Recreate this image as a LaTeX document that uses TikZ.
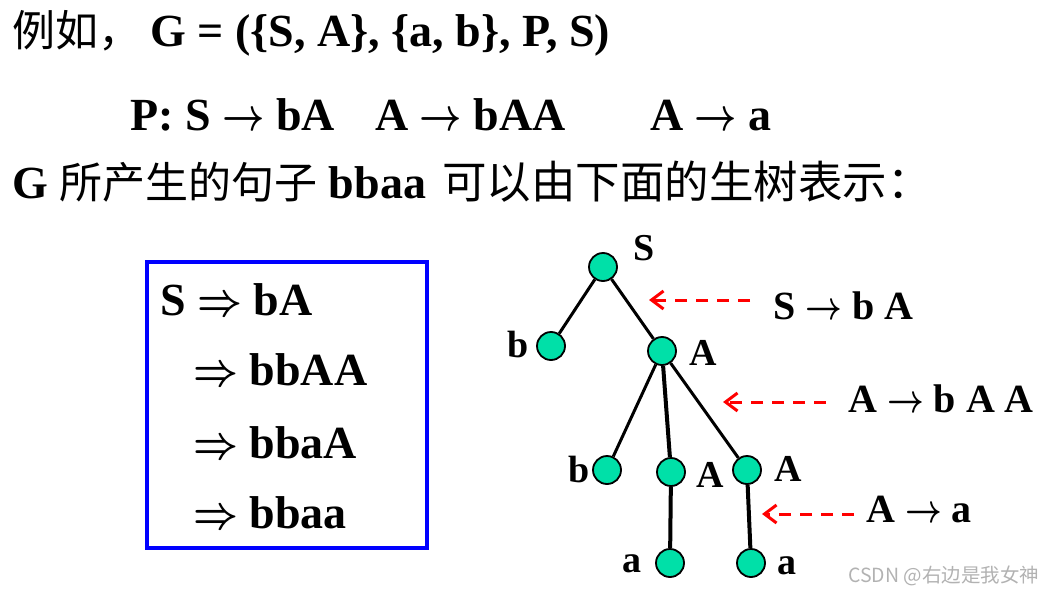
\RequirePackage{fix-cm}
\documentclass[tikz,border=0pt]{standalone}
\usepackage{fontspec}
\setmainfont{Liberation Serif}
\newfontfamily\cjk{Noto Sans CJK SC}
\usetikzlibrary{arrows.meta}
\definecolor{leafgreen}{HTML}{00E0A8}
\newcommand{\toarr}{\scalebox{0.8}[1]{\boldmath$\rightarrow$}}
\newcommand{\derarr}{\scalebox{0.85}[1]{\boldmath$\Rightarrow$}}
\tikzstyle{vert} = [draw, circle, fill=leafgreen, line width=1.8pt, minimum size=28pt, inner sep=0pt]
\tikzstyle{edge} = [line width=3pt]
\tikzstyle{lbl} = [font=\fontsize{38}{40}\selectfont\bfseries, inner sep=0pt]
\tikzstyle{rule} = [font=\fontsize{40}{42}\selectfont\bfseries, inner sep=0pt, anchor=base west]
\tikzstyle{deriv} = [font=\fontsize{46}{48}\selectfont\bfseries, inner sep=0pt, anchor=base west]
\tikzstyle{head} = [font=\fontsize{46}{48}\selectfont\bfseries, inner sep=0pt, anchor=base west]
\tikzstyle{rulearrow} = [red, line width=3pt, dash pattern=on 12pt off 9pt, -{Straight Barb[length=12pt,width=18pt]}]

\begin{document}
\begin{tikzpicture}[x=1pt, y=-1pt]
    \useasboundingbox (0,0) rectangle (1054,594);

    % Heading lines
    \node[head] (eg) at (12,47) {{\cjk\mdseries\fontsize{43}{46}\selectfont 例如，}};
    \node[head] (gram) at (150,47) {G = (\{S, A\}, \{a, b\}, P, S)};
    \node[head] (p1) at (130,130) {P: S \toarr\ bA};
    \node[head] (p2) at (375,130) {A \toarr\ bAA};
    \node[head] (p3) at (650,130) {A \toarr\ a};
    \node[head] (line3) at (12,198) {G {\cjk\mdseries\fontsize{43}{46}\selectfont 所产生的句子} bbaa\hspace{16pt}{\cjk\mdseries\fontsize{44.5}{48}\selectfont 可以由下面的生树表示：}};

    % Derivation box
    \node[draw=blue, line width=3.5pt, minimum width=280pt, minimum height=286pt, inner sep=0pt] (box) at (287,405) {};
    \node[deriv] (d0) at (160,315) {S \derarr\ bA};
    \node[deriv] (d1) at (193,385) {\derarr\ bbAA};
    \node[deriv] (d2) at (193,458) {\derarr\ bbaA};
    \node[deriv] (d3) at (193,528) {\derarr\ bbaa};

    % Tree vertices
    \node[vert] (S) at (603,267) {};
    \node[vert] (b1) at (551,346) {};
    \node[vert] (A1) at (662,351) {};
    \node[vert] (b2) at (607,470) {};
    \node[vert] (A2) at (671,472) {};
    \node[vert] (A3) at (747,470) {};
    \node[vert] (a1) at (670,563) {};
    \node[vert] (a2) at (751,563) {};

    % Tree edges
    \draw[edge] (S) -- (b1);
    \draw[edge] (S) -- (A1);
    \draw[edge] (A1) -- (b2);
    \draw[edge, line width=4pt] (A1) -- (A2);
    \draw[edge] (A1) -- (A3);
    \draw[edge, line width=4pt] (A2) -- (a1);
    \draw[edge, line width=4pt] (A3) -- (a2);

    % Vertex labels
    \node[lbl] (lS) at (644,248) {S};
    \node[lbl] (lb1) at (518,344) {b};
    \node[lbl] (lA1) at (703,353) {A};
    \node[lbl] (lb2) at (579,469) {b};
    \node[lbl] (lA2) at (710,475) {A};
    \node[lbl] (lA3) at (788,469) {A};
    \node[lbl] (la1) at (632,564) {a};
    \node[lbl] (la2) at (787,566) {a};

    % Productions with red arrows
    \node[rule] (r1) at (773,319) {S \toarr\ b A};
    \node[rule] (r2) at (848,412) {A \toarr\ b A A};
    \node[rule] (r3) at (866,522) {A \toarr\ a};
    \coordinate (s1) at (750,300);
    \coordinate (t1) at (649,300);
    \coordinate (s2) at (826,402);
    \coordinate (t2) at (723,402);
    \coordinate (s3) at (854,514);
    \coordinate (t3) at (762,514);
    \draw[rulearrow] (s1) -- (t1);
    \draw[rulearrow] (s2) -- (t2);
    \draw[rulearrow] (s3) -- (t3);

    % Watermark
    \node[anchor=west, text=gray!60, font=\cjk\fontsize{19.5}{21}\selectfont, inner sep=0pt] (mark) at (848,576) {CSDN @右边是我女神};
\end{tikzpicture}
\end{document}
